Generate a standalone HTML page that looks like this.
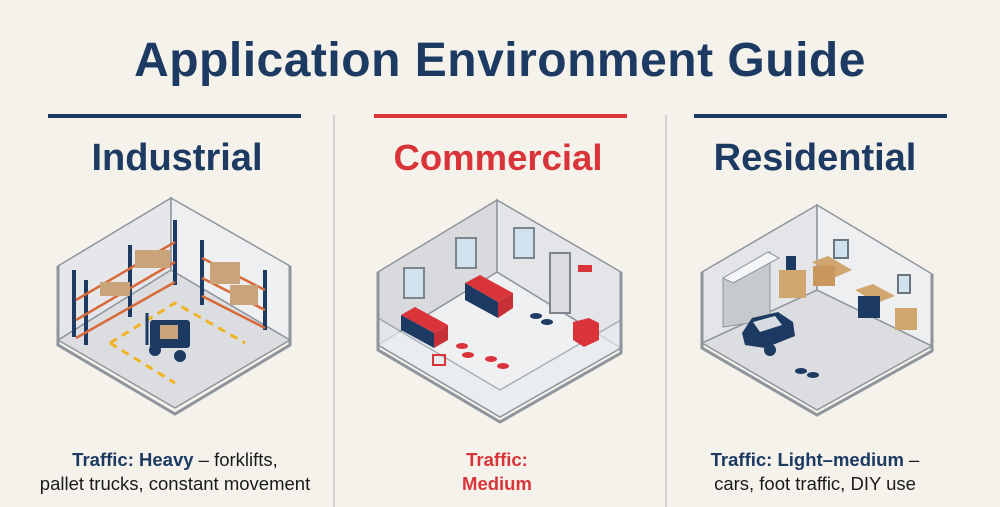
<!DOCTYPE html>
<html><head><meta charset="utf-8"><style>
html,body{margin:0;padding:0;background:#f4f2ea;}
body{width:1000px;height:507px;position:relative;overflow:hidden;font-family:"Liberation Sans",sans-serif;}
.t{position:absolute;left:0;width:1000px;text-align:center;top:33px;font-size:48px;font-weight:bold;color:#1d3a63;letter-spacing:0.5px}
.h{position:absolute;width:320px;text-align:center;top:137px;font-size:37px;font-weight:bold;color:#1d3a63}
.b{position:absolute;width:340px;text-align:center;font-size:18.5px;line-height:24px;color:#1a1a1a}
.b b{color:#1d3a63}
</style></head><body>
<div class="t">Application Environment Guide</div>
<div style="position:absolute;left:48px;top:114px;width:253px;height:4px;background:#1d3a63"></div>
<div style="position:absolute;left:374px;top:114px;width:253px;height:4px;background:#d9343a"></div>
<div style="position:absolute;left:694px;top:114px;width:253px;height:4px;background:#1d3a63"></div>
<div style="position:absolute;left:333px;top:115px;width:2px;height:392px;background:#d4d4d0"></div>
<div style="position:absolute;left:665px;top:115px;width:2px;height:392px;background:#d4d4d0"></div>
<div class="h" style="left:17px;font-size:38px">Industrial</div>
<div class="h" style="left:338px;color:#d9343a;font-size:36.5px">Commercial</div>
<div class="h" style="left:655px;font-size:38px">Residential</div>

<svg width="1000" height="507" style="position:absolute;left:0;top:0">
<!-- Industrial room -->
<g stroke="#8f959c" stroke-width="1.5">
<polygon points="171,270 58,340 175,408 290,340" fill="#dcdde0"/>
<polygon points="171,198 58,266 58,340 171,270" fill="#e6e7ea"/>
<polygon points="171,198 290,266 290,340 171,270" fill="#eeeff1"/>
<polyline points="58,266 58,345 175,414 290,345 290,266" fill="none" stroke-width="3"/>
</g>
<g stroke="#1d3a63" stroke-width="4">
<line x1="74" y1="270" x2="74" y2="337"/><line x1="86" y1="280" x2="86" y2="345"/>
<line x1="130" y1="245" x2="130" y2="317"/><line x1="175" y1="220" x2="175" y2="285"/>
<line x1="202" y1="240" x2="202" y2="305"/><line x1="265" y1="270" x2="265" y2="330"/>
</g>
<g stroke="#d86a3a" stroke-width="2.5">
<line x1="76" y1="300" x2="175" y2="242"/><line x1="76" y1="320" x2="175" y2="262"/><line x1="76" y1="338" x2="175" y2="282"/>
<line x1="202" y1="258" x2="265" y2="290"/><line x1="202" y1="278" x2="265" y2="310"/><line x1="202" y1="296" x2="265" y2="328"/>
</g>
<g fill="#c9a47a">
<rect x="135" y="250" width="35" height="18"/><rect x="100" y="282" width="30" height="14"/><rect x="210" y="262" width="30" height="22"/><rect x="230" y="285" width="28" height="20"/>
</g>
<g stroke="#f0b323" stroke-width="3" stroke-dasharray="8,6" fill="none">
<polyline points="110,343 175,303 245,343"/><polyline points="110,343 175,383"/>
</g>
<rect x="150" y="320" width="40" height="28" fill="#1d3a63" rx="3"/><rect x="160" y="325" width="18" height="14" fill="#c9a47a"/>
<circle cx="155" cy="350" r="6" fill="#1d3a63"/><circle cx="180" cy="356" r="6" fill="#1d3a63"/>
<line x1="147" y1="313" x2="147" y2="345" stroke="#1d3a63" stroke-width="3"/>

<!-- Commercial room -->
<g stroke="#8f959c" stroke-width="1.5">
<polygon points="497,272 378,345 500,417 621,348" fill="#eef0f2"/>
<polygon points="497,200 378,272 378,345 497,272" fill="#d9dadd"/>
<polygon points="497,200 621,272 621,348 497,272" fill="#e4e5e8"/>
<polygon points="378,345 500,417 621,348 621,320 500,390 378,318" fill="#e8ecf0" opacity="0.7"/>
<polyline points="378,272 378,350 500,422 621,353 621,272" fill="none" stroke-width="3"/>
</g>
<g fill="#d0e2ee" stroke="#7f858c" stroke-width="2">
<rect x="404" y="268" width="20" height="30"/><rect x="456" y="238" width="20" height="30"/><rect x="514" y="228" width="20" height="30"/>
</g>
<rect x="550" y="253" width="20" height="60" fill="#dadcdf" stroke="#7f858c" stroke-width="2"/>
<rect x="578" y="265" width="14" height="7" fill="#d9343a"/>
<g><polygon points="465,283 480,275 513,293 498,302" fill="#d9343a"/><polygon points="465,283 498,302 498,318 465,300" fill="#1d3a63"/><polygon points="498,302 513,293 513,308 498,318" fill="#c83038"/></g>
<g><polygon points="401,315 415,307 448,325 434,333" fill="#d9343a"/><polygon points="401,315 434,333 434,348 401,330" fill="#1d3a63"/><polygon points="434,333 448,325 448,340 434,348" fill="#c83038"/></g>
<polygon points="573,322 589,318 599,323 599,340 584,347 573,340" fill="#d9343a"/>
<g fill="#1d3a63"><ellipse cx="536" cy="316" rx="6" ry="3"/><ellipse cx="547" cy="322" rx="6" ry="3"/></g>
<g fill="#d9343a"><ellipse cx="462" cy="346" rx="6" ry="3"/><ellipse cx="468" cy="355" rx="6" ry="3"/><ellipse cx="491" cy="359" rx="6" ry="3"/><ellipse cx="503" cy="366" rx="6" ry="3"/></g>
<rect x="433" y="355" width="12" height="10" fill="none" stroke="#d9343a" stroke-width="2"/>

<!-- Residential room -->
<g stroke="#8f959c" stroke-width="1.5">
<polygon points="817,290 702,343 817,410 932,346" fill="#dcdde0"/>
<polygon points="817,205 702,272 702,343 817,290" fill="#e4e5e8"/>
<polygon points="817,205 932,274 932,346 817,290" fill="#eeeff1"/>
<polyline points="702,272 702,348 817,415 932,351 932,274" fill="none" stroke-width="3"/>
</g>
<polygon points="723,278 770,252 770,320 723,327" fill="#c6c9cd" stroke="#8f959c"/>
<polygon points="723,278 768,252 779,258 733,283" fill="#f4f5f6" stroke="#8f959c"/>
<rect x="834" y="240" width="14" height="18" fill="#d0e2ee" stroke="#6c7480" stroke-width="2"/>
<rect x="898" y="275" width="12" height="18" fill="#d0e2ee" stroke="#6c7480" stroke-width="2"/>
<polygon points="812,262 828,256 852,270 836,277" fill="#d1a56e"/><rect x="813" y="266" width="22" height="20" fill="#c9975e"/>
<rect x="779" y="270" width="27" height="28" fill="#d1a56e"/><rect x="786" y="256" width="10" height="14" fill="#1d3a63"/>
<polygon points="855,290 873,284 895,296 877,303" fill="#d1a56e"/><rect x="858" y="296" width="22" height="22" fill="#1d3a63"/>
<rect x="895" y="308" width="22" height="22" fill="#d1a56e"/>
<path d="M742,333 L752,318 L778,312 L793,322 L795,336 L765,348 L745,345 Z" fill="#1d3a63"/>
<polygon points="753,322 775,316 782,325 760,332" fill="#d6dce2"/>
<circle cx="770" cy="350" r="6" fill="#1d3a63"/>
<g fill="#1d3a63"><ellipse cx="801" cy="371" rx="6" ry="3"/><ellipse cx="813" cy="375" rx="6" ry="3"/></g>
</svg>

<div class="b" style="left:5px;top:448px"><b>Traffic:</b> <b>Heavy</b> – forklifts,<br>pallet trucks, constant movement</div>
<div class="b" style="left:327px;top:448px;color:#d9343a;font-weight:bold">Traffic:<br>Medium</div>
<div class="b" style="left:645px;top:448px"><b>Traffic:</b> <b>Light–medium</b> –<br>cars, foot traffic, DIY use</div>
</body></html>
